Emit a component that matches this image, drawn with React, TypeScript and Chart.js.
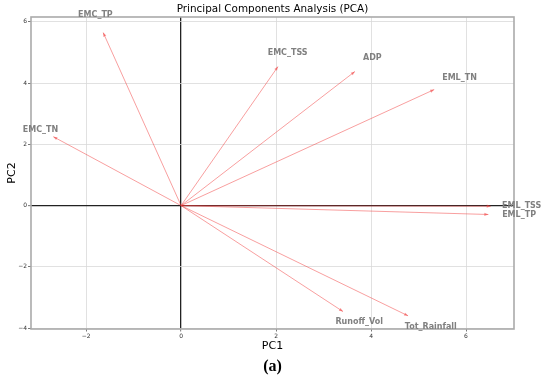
import React, { useEffect, useRef } from "react";
import { Chart, registerables } from "chart.js";

Chart.register(...registerables);

// Variable loadings (arrow tips) on PC1 / PC2
const variables = [
  "EMC_TN",
  "EMC_TP",
  "EMC_TSS",
  "ADP",
  "EML_TN",
  "EML_TSS",
  "EML_TP",
  "Runoff_Vol",
  "Tot_Rainfall",
];
const pc1 = [-2.69, -1.64, 2.04, 3.66, 5.33, 6.52, 6.47, 3.41, 4.78];
const pc2 = [2.25, 5.65, 4.54, 4.38, 3.79, -0.02, -0.29, -3.46, -3.6];
const xTicks = [-2, 0, 2, 4, 6];
const yTicks = [-4, -2, 0, 2, 4, 6];
const labelFactor = 1.1;

const ARROW_COLOR = "rgba(240, 60, 60, 0.55)";
const fmt = (v: number) => (v < 0 ? "\u2212" + Math.abs(v) : String(v));

const arrowPlugin = {
  id: "pcaArrows",
  beforeDatasetsDraw(chart: any) {
    const { ctx, chartArea } = chart;
    ctx.save();
    ctx.strokeStyle = "#aaaaaa";
    ctx.lineWidth = 1.6;
    ctx.strokeRect(chartArea.left, chartArea.top, chartArea.right - chartArea.left, chartArea.bottom - chartArea.top);
    ctx.restore();
  },
  afterDatasetsDraw(chart: any) {
    const { ctx } = chart;
    const xs = chart.scales.x;
    const ys = chart.scales.y;
    ctx.save();
    const x0 = xs.getPixelForValue(0);
    const y0 = ys.getPixelForValue(0);
    variables.forEach((name, i) => {
      const x1 = xs.getPixelForValue(pc1[i]);
      const y1 = ys.getPixelForValue(pc2[i]);
      const a = Math.atan2(y1 - y0, x1 - x0);
      const L = 4;
      const W = 1.6;
      const bx = x1 - L * Math.cos(a);
      const by = y1 - L * Math.sin(a);
      ctx.fillStyle = ARROW_COLOR;
      ctx.beginPath();
      ctx.moveTo(x1, y1);
      ctx.lineTo(bx + W * Math.sin(a), by - W * Math.cos(a));
      ctx.lineTo(bx - W * Math.sin(a), by + W * Math.cos(a));
      ctx.closePath();
      ctx.fill();

      ctx.font = 'bold 8px "DejaVu Sans"';
      ctx.fillStyle = "#808080";
      ctx.textAlign = "center";
      ctx.textBaseline = "middle";
      ctx.fillText(
        name,
        xs.getPixelForValue(pc1[i] * labelFactor),
        ys.getPixelForValue(pc2[i] * labelFactor)
      );
    });
    ctx.restore();
  },
};

export default function App() {
  const ref = useRef<HTMLCanvasElement | null>(null);

  useEffect(() => {
    if (!ref.current) return;
    const datasets = variables.map((name, i) => ({
      label: name,
      data: [
        { x: 0, y: 0 },
        { x: pc1[i], y: pc2[i] },
      ],
      showLine: true,
      borderColor: ARROW_COLOR,
      backgroundColor: ARROW_COLOR,
      borderWidth: 0.9,
      pointRadius: 0,
      pointHoverRadius: 0,
    }));

    const gridColor = (c: any) => (c.tick && c.tick.value === 0 ? "#222222" : "#d9d9d9");
    const gridWidth = (c: any) => (c.tick && c.tick.value === 0 ? 1.3 : 0.8);

    const chart = new Chart(ref.current, {
      type: "scatter",
      data: { datasets },
      plugins: [arrowPlugin],
      options: {
        animation: false,
        responsive: false,
        maintainAspectRatio: false,
        layout: { padding: { left: 0, right: 5, top: 0, bottom: 0 } },
        plugins: {
          legend: { display: false },
          tooltip: { enabled: false },
          title: {
            display: true,
            text: "Principal Components Analysis (PCA)",
            color: "#000",
            font: { family: "DejaVu Sans", size: 10.4, weight: "normal", lineHeight: 1.25 },
            padding: { top: 3, bottom: 1 },
          },
          subtitle: {
            display: true,
            position: "bottom",
            text: "(a)",
            color: "#000",
            font: { family: "Liberation Serif", size: 16, weight: "bold", lineHeight: 1.2 },
            padding: { top: 0, bottom: 2 },
          },
        },
        scales: {
          x: {
            type: "linear",
            position: "bottom",
            min: -3.16,
            max: 7.01,
            afterBuildTicks: (s: any) => {
              s.ticks = xTicks.map((v) => ({ value: v }));
            },
            afterFit: (s: any) => {
              s.height = 27.8;
            },
            ticks: {
              color: "#333",
              font: { family: "DejaVu Sans", size: 6 },
              padding: 1,
              maxRotation: 0,
              callback: (v: any) => fmt(Number(v)),
            },
            grid: {
              color: gridColor,
              lineWidth: gridWidth,
              drawTicks: true,
              tickLength: 2.5,
              tickColor: "#555",
              tickWidth: 0.8,
            },
            border: { display: false },
            title: {
              display: true,
              text: "PC1",
              color: "#000",
              font: { family: "DejaVu Sans", size: 11, lineHeight: 1.2 },
              padding: { top: 0, bottom: 4.5 },
            },
          },
          y: {
            type: "linear",
            position: "left",
            min: -4.03,
            max: 6.16,
            afterBuildTicks: (s: any) => {
              s.ticks = yTicks.map((v) => ({ value: v }));
            },
            afterFit: (s: any) => {
              s.width = 31;
            },
            ticks: {
              color: "#333",
              font: { family: "DejaVu Sans", size: 6 },
              padding: 1,
              callback: (v: any) => fmt(Number(v)),
            },
            grid: {
              color: gridColor,
              lineWidth: gridWidth,
              drawTicks: true,
              tickLength: 3,
              tickColor: "#555",
              tickWidth: 0.8,
            },
            border: { display: false },
            title: {
              display: true,
              text: "PC2",
              color: "#000",
              font: { family: "DejaVu Sans", size: 11, lineHeight: 1.2 },
              padding: { top: 6, bottom: 0 },
            },
          },
          yRight: {
            type: "linear",
            position: "right",
            display: true,
            grid: { display: false, drawTicks: false },
            ticks: { display: false },
            border: { display: false },
            title: { display: false },
            afterFit: (s: any) => {
              s.width = 31;
            },
          },
        },
      },
    } as any);
    return () => chart.destroy();
  }, []);

  return (
    <div style={{ position: "fixed", left: 0, top: 0, width: 550, height: 378, background: "#fff" }}>
      <canvas ref={ref} width={550} height={378} />
    </div>
  );
}
